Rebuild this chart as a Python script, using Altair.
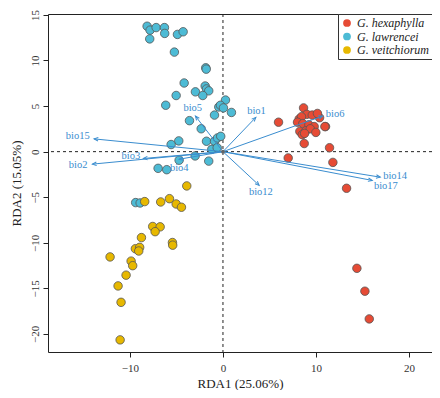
import altair as alt
import pandas as pd
import numpy as np

species = ["G. hexaphylla", "G. lawrencei", "G. veitchiorum"]
colors = ["#E64B35", "#4DBBD5", "#E7B800"]

hex_x = [5.97, 8.66, 9.01, 9.59, 10.38, 8.19, 8.44, 8.01, 8.58, 9.23, 9.80, 11.02, 8.26, 8.90,
         9.38, 9.98, 8.52, 8.77, 10.15, 10.95, 8.73, 11.45, 7.01, 11.81, 13.28, 14.39, 15.25, 15.72]
hex_y = [3.23, 4.80, 4.09, 4.01, 3.72, 3.58, 3.83, 3.23, 3.08, 2.94, 2.75, 2.75, 2.22, 2.29,
         2.51, 2.11, 1.86, 2.00, 4.19, 2.75, 0.89, 0.43, -0.69, -1.18, -4.02, -12.80, -15.31, -18.35]

law_x = [-8.15, -7.83, -7.18, -6.29, -6.26, -4.89, -4.28, -7.87, -5.22, -1.85, -1.80, -4.17,
         -1.91, -1.77, -1.53, -2.96, -2.17, -5.03, -6.15, 0.27, -0.45, -0.27, 0.05, 0.91, -0.91,
         -3.60, -2.34, -1.77, -0.91, -0.59, -0.24, -4.75, -5.57, -1.20, -0.62, -4.71, -2.99,
         -1.53, -6.97, -6.04, -9.38, -8.90]
law_y = [13.76, 13.33, 13.61, 13.61, 12.97, 12.86, 13.15, 12.37, 10.92, 9.20, 9.05, 7.53,
         7.20, 6.88, 6.67, 6.56, 6.16, 6.16, 5.09, 5.66, 4.90, 5.09, 4.80, 4.30, 4.01,
         3.40, 2.51, 1.14, 1.14, 1.50, 1.68, 1.18, 0.78, 0.25, 0.43, -0.94, -0.47,
         -1.04, -1.83, -1.98, -5.59, -5.63]

vei_x = [-3.89, -8.41, -6.69, -5.75, -5.03, -4.46, -7.55, -6.75, -7.29, -5.43, -5.40, -8.76,
         -9.41, -8.95, -9.05, -12.13, -9.87, -9.70, -10.41, -11.27, -10.95, -11.05]
vei_y = [-3.76, -5.48, -5.52, -5.16, -5.74, -6.10, -8.21, -8.25, -8.78, -9.97, -10.26, -9.43,
         -10.65, -10.50, -10.90, -11.55, -12.01, -12.51, -13.55, -14.73, -16.53, -20.65]

bio_names = ["bio1", "bio6", "bio5", "bio15", "bio3", "bio2", "bio4", "bio12", "bio14", "bio17"]
tip_x = [3.53, 10.70, -2.96, -13.85, -8.55, -14.03, -4.71, 3.89, 16.90, 16.04]
tip_y = [3.76, 3.90, 3.90, 1.40, -0.75, -1.37, -0.83, -3.70, -2.80, -3.16]
label_x = [3.60, 12.05, -3.25, -15.60, -9.90, -15.57, -4.70, 4.07, 18.50, 17.50]
label_y = [4.44, 4.10, 4.80, 1.68, -0.50, -1.47, -1.83, -4.41, -2.69, -3.76]

x_domain = [-18.8, 22.46]
y_domain = [-21.98, 15.1]
x_ticks = [-10, 0, 10, 20]
y_ticks = [-20, -15, -10, -5, 0, 5, 10, 15]

pts = pd.concat([
    pd.DataFrame({"x": hex_x, "y": hex_y, "sp": species[0]}),
    pd.DataFrame({"x": law_x, "y": law_y, "sp": species[1]}),
    pd.DataFrame({"x": vei_x, "y": vei_y, "sp": species[2]}),
], ignore_index=True)
pts["order"] = range(len(pts))

arr = pd.DataFrame({"name": bio_names, "x": tip_x, "y": tip_y, "lx": label_x, "ly": label_y})
arr["x0"] = 0.0
arr["y0"] = 0.0
arr["angle"] = (np.degrees(np.arctan2(arr["x"] * 9.3, arr["y"] * 9.1)) + 360) % 360

FONT = "Liberation Serif, Times New Roman, serif"
ARROW = "#3A8DCF"

xs = alt.Scale(domain=x_domain, nice=False, zero=False)
ys = alt.Scale(domain=y_domain, nice=False, zero=False)

xaxis = alt.Axis(values=x_ticks, title="RDA1 (25.06%)", grid=False, domain=False,
                 tickColor="#222", tickSize=5, labelFont=FONT, labelFontSize=11,
                 labelColor="#333", labelPadding=5, titleFont=FONT, titleFontSize=13,
                 titleFontWeight="normal", titleColor="#222", titlePadding=4)
yaxis = alt.Axis(values=y_ticks, title="RDA2 (15.05%)", grid=False, domain=False,
                 tickColor="#222", tickSize=5, labelFont=FONT, labelFontSize=11,
                 labelColor="#333", labelAngle=-90, labelPadding=3, titleFont=FONT,
                 titleFontSize=13, titleFontWeight="normal", titleColor="#222", titlePadding=6)

base = alt.Chart(pts)

vline = alt.Chart(pd.DataFrame({"v": [0.0]})).mark_rule(
    color="#222", strokeDash=[3, 3], strokeWidth=1).encode(x=alt.X("v:Q", scale=xs, axis=xaxis))
hline = alt.Chart(pd.DataFrame({"v": [0.0]})).mark_rule(
    color="#222", strokeDash=[3, 3], strokeWidth=1).encode(y=alt.Y("v:Q", scale=ys, axis=yaxis))

points = base.mark_circle(size=72, opacity=1, stroke="#555", strokeWidth=0.8).encode(
    x=alt.X("x:Q", scale=xs, axis=xaxis),
    y=alt.Y("y:Q", scale=ys, axis=yaxis),
    color=alt.Color("sp:N", scale=alt.Scale(domain=species, range=colors),
                    legend=alt.Legend(title=None, orient="top-right", offset=0,
                                      strokeColor="#333", fillColor="white", padding=3,
                                      labelFont=FONT, labelFontSize=12, labelFontStyle="italic",
                                      labelColor="#222", symbolSize=60, symbolStrokeWidth=0,
                                      rowPadding=1.5, labelOffset=4, symbolType="circle")),
    order=alt.Order("order:Q"),
)

lines = alt.Chart(arr).mark_rule(color=ARROW, strokeWidth=1).encode(
    x=alt.X("x0:Q", scale=xs), y=alt.Y("y0:Q", scale=ys), x2="x:Q", y2="y:Q")

heads = alt.Chart(arr).mark_point(
    shape="M-0.55,1.3L0,0L0.55,1.3", filled=False, color=ARROW, strokeWidth=1, size=40,
    opacity=1).encode(
    x=alt.X("x:Q", scale=xs), y=alt.Y("y:Q", scale=ys), angle=alt.Angle("angle:Q", scale=None))

origin = alt.Chart(pd.DataFrame({"x": [0.0], "y": [0.0]})).mark_circle(
    color="#666", size=14, opacity=1).encode(x=alt.X("x:Q", scale=xs), y=alt.Y("y:Q", scale=ys))

labels = alt.Chart(arr).mark_text(font=FONT, fontSize=10.5, color=ARROW).encode(
    x=alt.X("lx:Q", scale=xs), y=alt.Y("ly:Q", scale=ys), text="name:N")

chart = alt.layer(vline, hline, points, lines, heads, origin, labels).properties(
    width=384, height=338,
    autosize=alt.AutoSizeParams(type="none"),
    padding={"left": 40, "top": 6, "right": 0, "bottom": 38},
).configure_view(stroke="#222", strokeWidth=1)

chart.save("out.html", embed_options={"renderer": "svg", "actions": False})
